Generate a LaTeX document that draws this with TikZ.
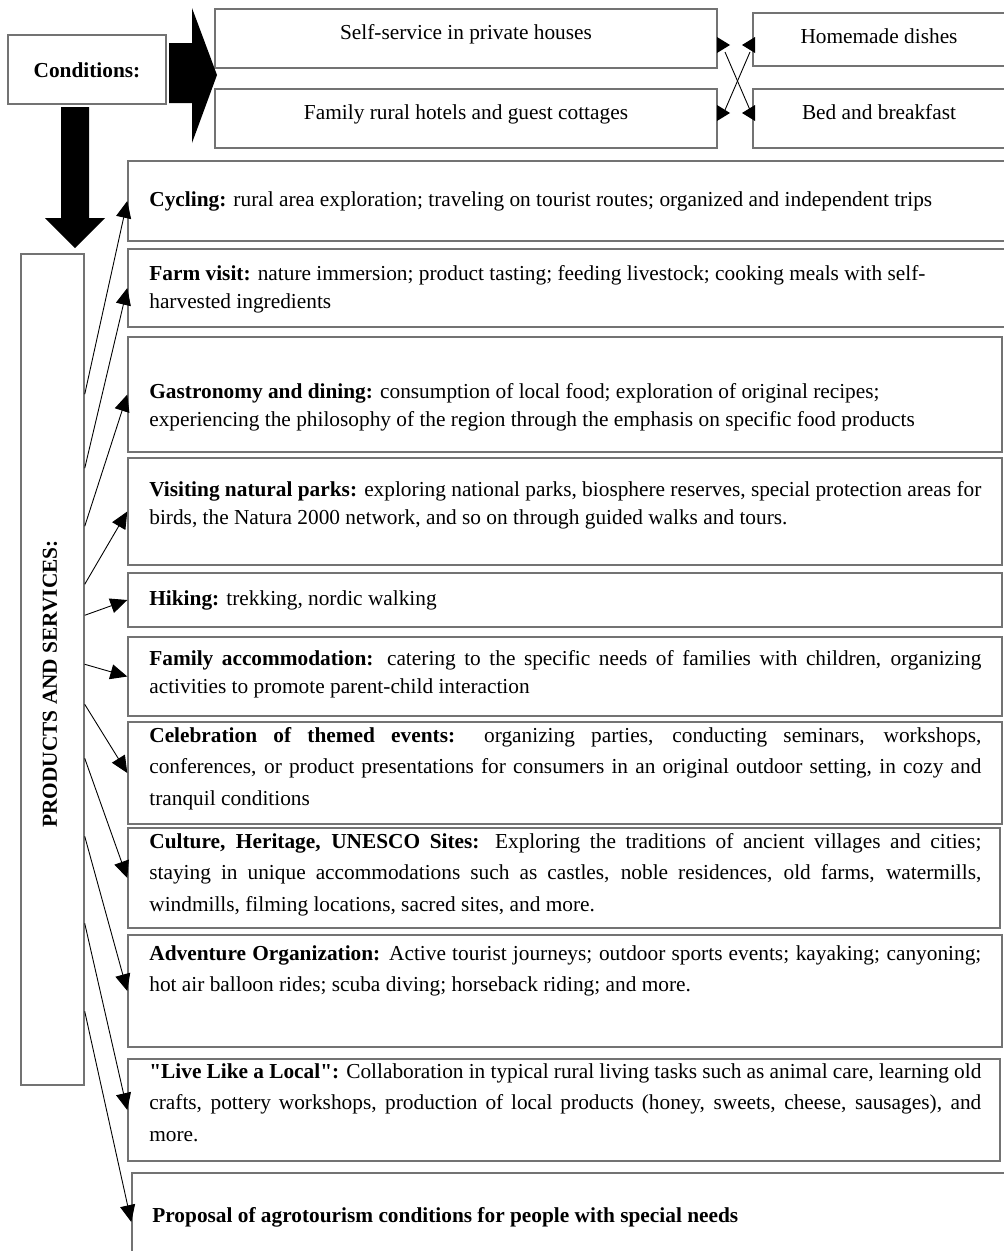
\documentclass[tikz,border=0pt]{standalone}
\usepackage{fontspec}
\setmainfont{Liberation Serif}
\newfontfamily\plainquote{Liberation Serif}
\usetikzlibrary{arrows.meta,calc,fit}

\newcommand{\leftpar}[1]{\parbox[t]{468pt}{\fontsize{12pt}{15.75pt}\selectfont\raggedright #1}}
\newcommand{\justpar}[2][17.8pt]{\parbox[t]{468pt}{\fontsize{12pt}{#1}\selectfont #2}}
\newcommand{\dq}{{\plainquote\bfseries"}}

\tikzset{
  box/.style={draw=black!55, line width=0.8pt, inner sep=0pt, rectangle},
  txt/.style={inner sep=0pt, anchor=base west},
  ctxt/.style={inner sep=0pt, anchor=base},
  link/.style={line width=0.5pt, -{Triangle[length=9.5pt,width=8.5pt]}},
}

\begin{document}
\begin{tikzpicture}[x=0.5625pt, y=-0.5625pt, font=\fontsize{12pt}{14pt}\selectfont]
\useasboundingbox (0,0) rectangle (1004,1251);
\clip (0,0) rectangle (1004,1251);

%boxes
\foreach \n/\x/\t/\r/\b in {cond/8/35/166/104, self/215/9/717/68, fam/215/89/717/148,
    home/753/13/1008/66, bnb/753/89/1008/148, prod/21/254/84/1085,
    cyc/128/161/1008/241, farm/128/249/1008/327, gast/128/337/1002/452,
    visit/128/458/1002/565, hike/128/573/1002/627, famacc/128/637/1002/716,
    celeb/128/722/1002/824, cult/128/828/1000/928, adv/128/935/1002/1047,
    live/128/1059/1000/1161, prop/132/1173/1008/1271}{
  \node[box, fit={(\x,\t) (\r,\b)}] (\n) {};
}

%top texts
\node[ctxt] (cond-t) at (87,77) {\textbf{Conditions:}};
\node[ctxt] (self-t) at (466,39) {Self-service in private houses};
\node[ctxt] (fam-t) at (466,119) {Family rural hotels and guest cottages};
\node[ctxt] (home-t) at (879,43) {Homemade dishes};
\node[ctxt] (bnb-t) at (879,119) {Bed and breakfast};
\node[rotate=90, font=\fontsize{12pt}{14pt}\selectfont\bfseries] (prod-t) at (50,684) {PRODUCTS AND SERVICES:};

%products
\node[txt] (cyc-t) at (149,206) {\textbf{Cycling:} rural area exploration; traveling on tourist routes; organized and independent trips};
\node[txt] (farm-t) at (149,280) {\leftpar{\textbf{Farm visit:} nature immersion; product tasting; feeding livestock; cooking meals with self-\\harvested ingredients}};
\node[txt] (gast-t) at (149,398) {\leftpar{\textbf{Gastronomy and dining:} consumption of local food; exploration of original recipes;\\experiencing the philosophy of the region through the emphasis on specific food products}};
\node[txt] (visit-t) at (149,496) {\leftpar{\textbf{Visiting natural parks:} exploring national parks, biosphere reserves, special protection areas for\\birds, the Natura 2000 network, and so on through guided walks and tours.}};
\node[txt] (hike-t) at (149,605) {\textbf{Hiking:} trekking, nordic walking};
\node[txt] (famacc-t) at (149,665) {\justpar[15.75pt]{\textbf{Family accommodation:} catering to the specific needs of families with children, organizing\linebreak activities to promote parent-child interaction}};
\node[txt] (celeb-t) at (149,742) {\justpar{\textbf{Celebration of themed events:} organizing parties, conducting seminars, workshops,\linebreak conferences, or product presentations for consumers in an original outdoor setting, in cozy and\linebreak tranquil conditions}};
\node[txt] (cult-t) at (149,848) {\justpar{\textbf{Culture, Heritage, UNESCO Sites:} Exploring the traditions of ancient villages and cities;\linebreak staying in unique accommodations such as castles, noble residences, old farms, watermills,\linebreak windmills, filming locations, sacred sites, and more.}};
\node[txt] (adv-t) at (149,960) {\justpar{\textbf{Adventure Organization:} Active tourist journeys; outdoor sports events; kayaking; canyoning;\linebreak hot air balloon rides; scuba diving; horseback riding; and more.}};
\node[txt] (live-t) at (149,1078) {\justpar{\textbf{\dq Live Like a Local\dq:} Collaboration in typical rural living tasks such as animal care, learning old\linebreak crafts, pottery workshops, production of local products (honey, sweets, cheese, sausages), and\linebreak more.}};
\node[txt] (prop-t) at (152,1222) {\textbf{Proposal of agrotourism conditions for people with special needs}};

%big arrows
\fill (169,43) -- (192,43) -- (192,8) -- (217,75) -- (192,143) -- (192,103) -- (169,103) -- cycle;
\fill (61,107) -- (89,107) -- (89,218) -- (105,218) -- (75,248) -- (45,218) -- (61,218) -- cycle;

%crossing
\coordinate (sa) at (725,52);
\coordinate (sb) at (725,110);
\coordinate (ha) at (750,52);
\coordinate (ba) at (750,110);
\draw[line width=0.5pt] (sa) -- (ba);
\draw[line width=0.5pt] (sb) -- (ha);
\foreach \y in {37, 105}{
  \fill (717,\y) -- (717,\y+16) -- (730,\y+8) -- cycle;
  \fill (755,\y) -- (755,\y+16) -- (742,\y+8) -- cycle;
}

%links
\foreach \d/\n in {141/cyc, 215/farm, 273/gast, 331/visit, 362/hike, 411/famacc,
    451/celeb, 505/cult, 583/adv, 670/live, 758/prop}{
  \draw[link] ($(prod.north east)+(0,\d)$) -- (\n.west);
}
\end{tikzpicture}
\end{document}
